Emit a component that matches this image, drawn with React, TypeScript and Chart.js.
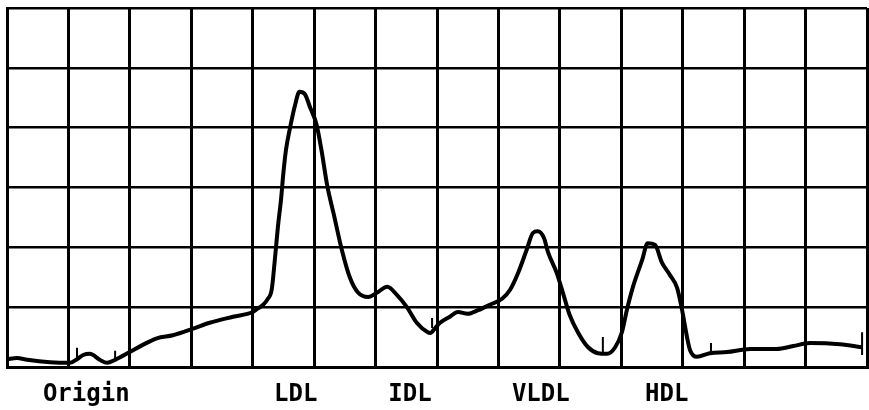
import React, { useEffect, useRef } from "react";
import { Chart, registerables } from "chart.js";

Chart.register(...registerables);

// Densitometer trace, x in grid divisions (0..14), y in grid divisions (0..6)
const traceX = [
  0, 0.16, 0.33, 0.7, 1.03, 1.14, 1.24, 1.35, 1.51, 1.63, 1.76, 2.0, 2.21, 2.44, 2.7, 3.03, 3.3, 3.68, 4.0,
  4.07, 4.17, 4.24, 4.31, 4.36, 4.41, 4.46, 4.5, 4.54, 4.61, 4.69, 4.76, 4.85, 4.93, 5.04, 5.12, 5.21,
  5.32, 5.45, 5.58, 5.71, 5.88, 6.02, 6.19, 6.35, 6.51, 6.67, 6.85, 6.89, 6.97, 7.05, 7.21, 7.34, 7.5,
  7.67, 7.86, 8.06, 8.19, 8.32, 8.46, 8.56, 8.64, 8.74, 8.81, 8.95, 9.05, 9.16, 9.3, 9.46, 9.62, 9.77,
  9.9, 10.01, 10.09, 10.19, 10.34, 10.43, 10.55, 10.66, 10.79, 10.91, 10.99, 11.07, 11.12, 11.23, 11.44,
  11.72, 12.1, 12.53, 12.8, 13.07, 13.56, 13.93,
];
const traceY = [
  0.13, 0.15, 0.12, 0.08, 0.07, 0.13, 0.2, 0.22, 0.12, 0.07, 0.12, 0.25, 0.37, 0.48, 0.53, 0.64, 0.74, 0.84, 0.92,
  0.97, 1.04, 1.13, 1.3, 1.79, 2.34, 2.79, 3.25, 3.62, 4.01, 4.38, 4.6, 4.56, 4.35, 4.05, 3.62, 3.05,
  2.55, 1.96, 1.5, 1.25, 1.17, 1.24, 1.34, 1.2, 1.0, 0.74, 0.58, 0.57, 0.65, 0.74, 0.84, 0.92, 0.89,
  0.95, 1.04, 1.14, 1.29, 1.57, 1.96, 2.24, 2.27, 2.16, 1.91, 1.57, 1.24, 0.87, 0.57, 0.33, 0.23, 0.22,
  0.33, 0.58, 0.95, 1.34, 1.79, 2.07, 2.04, 1.75, 1.54, 1.32, 0.95, 0.5, 0.28, 0.17, 0.23,
  0.25, 0.3, 0.3, 0.35, 0.4, 0.38, 0.33,
];

// Small pen marks on the trace
const markX = [1.14, 1.76, 5.99, 6.92, 9.7, 11.46, 13.92];
const markLow = [0.15, 0.12, 1.24, 0.65, 0.23, 0.23, 0.2];
const markHigh = [0.32, 0.27, 1.4, 0.82, 0.5, 0.4, 0.58];

// Band labels under the strip
const bandLabels = ["Origin", "LDL", "IDL", "VLDL", "HDL"];
const bandPositions = [1.29, 4.7, 6.56, 8.69, 10.74];

const X_MAX = 14;
const Y_MAX = 6;

export default function App() {
  const canvasRef = useRef<HTMLCanvasElement | null>(null);

  useEffect(() => {
    if (!canvasRef.current) return;
    const trace = traceX.map((x, i) => ({ x, y: traceY[i] }));
    const marks: any[] = [];
    markX.forEach((x, i) => {
      marks.push({ x, y: markLow[i] });
      marks.push({ x, y: markHigh[i] });
      marks.push({ x, y: null });
    });

    const chart = new Chart(canvasRef.current, {
      type: "line",
      data: {
        datasets: [
          {
            data: trace,
            borderColor: "#000",
            borderWidth: 4,
            pointRadius: 0,
            cubicInterpolationMode: "monotone",
            fill: false,
          },
          {
            data: marks,
            borderColor: "#000",
            borderWidth: 2,
            pointRadius: 0,
            spanGaps: false,
            tension: 0,
            fill: false,
          },
        ],
      },
      options: {
        animation: false,
        responsive: false,
        devicePixelRatio: 1,
        layout: { padding: { left: 7, top: 8, right: 2, bottom: 0 } },
        plugins: { legend: { display: false }, tooltip: { enabled: false } },
        scales: {
          x: {
            type: "linear",
            position: "bottom",
            min: 0,
            max: X_MAX,
            ticks: { stepSize: 1, display: false },
            grid: { color: "#000", lineWidth: 3, drawTicks: false },
            border: { color: "#000", width: 3 },
          },
          x2: {
            type: "linear",
            position: "bottom",
            min: 0,
            max: X_MAX,
            grid: { display: false, drawTicks: false },
            border: { display: false },
            afterBuildTicks: (scale: any) => {
              scale.ticks = bandPositions.map((v) => ({ value: v }));
            },
            afterFit: (scale: any) => {
              scale.height = 43;
            },
            ticks: {
              autoSkip: false,
              maxRotation: 0,
              padding: 13,
              color: "#000",
              font: { family: "'DejaVu Sans Mono'", size: 24, weight: "bold" },
              callback: (_v: any, i: number) => bandLabels[i],
            },
          },
          y: {
            type: "linear",
            min: 0,
            max: Y_MAX,
            ticks: { stepSize: 1, display: false },
            grid: { color: "#000", lineWidth: 2.5, drawTicks: false },
            border: { color: "#000", width: 3 },
          },
        },
      },
    });
    return () => chart.destroy();
  }, []);

  return (
    <div style={{ position: "absolute", left: 0, top: 0, width: 869, height: 410, background: "#fff" }}>
      <canvas ref={canvasRef} width={869} height={410} />
    </div>
  );
}
